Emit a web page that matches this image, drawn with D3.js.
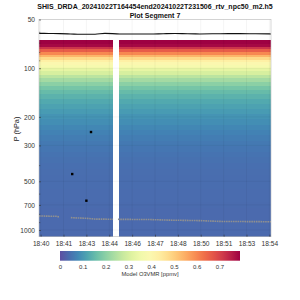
<!DOCTYPE html>
<html><head><meta charset="utf-8">
<script src="https://cdn.jsdelivr.net/npm/d3@7"></script>
<style>body{margin:0;background:#fff}svg{display:block}text{font-family:"Liberation Sans",Arial,sans-serif}</style>
</head><body><svg id="c" width="300" height="300"></svg>
<script>
const titleLines = ["SHIS_DRDA_20241022T164454end20241022T231506_rtv_npc50_m2.h5", "Plot Segment 7"];
const tickTimes = ["18:40:30","18:41:54","18:43:18","18:44:42","18:46:06","18:47:30","18:48:54","18:50:18","18:51:42","18:53:06","18:54:30"];
const timeDomain = ["18:40:24","18:54:36"];
const segStarts = ["18:40:24","18:45:17"];
const segEnds = ["18:44:57","18:54:36"];
const yTicks = [50,100,200,300,500,700,1000];
const yMinor = [60,70,80,90,400,600,800,900];
const cbTicks = [0,0.1,0.2,0.3,0.4,0.5,0.6,0.7];
const levels = [66,69,72,75,78,81,84,87,90,94,98,102,107,112,118,125,132,140,150,160,172,185,200,215,232,250,270,290,315,340,370,400,440,480,530,580,640,700,770,850,930,1010,1100];
const o3 = [0.85,0.82,0.78,0.72,0.66,0.60,0.54,0.48,0.43,0.40,0.37,0.33,0.30,0.26,0.23,0.20,0.175,0.155,0.14,0.125,0.115,0.105,0.095,0.087,0.078,0.07,0.063,0.058,0.054,0.05,0.047,0.045,0.043,0.042,0.041,0.04,0.04,0.039,0.038,0.038,0.037,0.037,0.036];
const tropTimes = ["18:40:24","18:41:00","18:41:41","18:42:20","18:42:55","18:43:50","18:44:26","18:45:21","18:46:20","18:47:12","18:48:00","18:48:43","18:49:30","18:50:15","18:51:30","18:52:42","18:53:40","18:54:36"];
const tropP = [60.9,61.0,61.1,61.4,61.7,61.7,60.9,61.4,61.4,61.5,61.2,61.0,61.3,61.4,61.2,61.1,61.3,61.4];
const sfcTimes = ["18:40:24","18:41:30","18:41:39",null,"18:42:21","18:43:20","18:43:50","18:44:56",null,"18:45:14","18:47:12","18:48:25","18:50:15","18:51:29","18:54:36"];
const sfcP = [819,823,831,null,839,847,856,858,null,859,862,869,875,885,889];
const dotTimes = ["18:42:26","18:43:18","18:43:35"];
const dotP = [451,659,248];
const cbMax = 0.79;

const svg = d3.select("#c");
const T = s => new Date(Date.UTC(2024,9,22,+s.slice(0,2),+s.slice(3,5),+s.slice(6,8)));
const L = 39, R = 271, TOP = 19.5, BOT = 236.7;
const x = d3.scaleUtc().domain(timeDomain.map(T)).range([L,R]);
const y = d3.scaleLog().domain([50,1100]).range([TOP,BOT]);
const color = v => d3.interpolateSpectral(1 - Math.max(0,Math.min(1,v/cbMax)));

// title
svg.selectAll("text.title").data(titleLines).join("text")
  .attr("x",155).attr("y",(d,i)=>9+i*8.6).attr("text-anchor","middle")
  .attr("font-size",7).attr("font-weight","bold").attr("fill","#111").text(d=>d);

// image cells
const edges = levels.map((p,i)=> i===0 ? 66.5 : Math.sqrt(levels[i-1]*p));
edges.push(1100);
const g = svg.append("g");
segStarts.forEach((s,si)=>{
  g.selectAll(null).data(levels).join("rect")
    .attr("x",x(T(s))).attr("width",x(T(segEnds[si]))-x(T(s)))
    .attr("y",(d,i)=>y(edges[i])).attr("height",(d,i)=>y(edges[i+1])-y(edges[i])+0.3)
    .attr("fill",(d,i)=>color(o3[i])).attr("shape-rendering","crispEdges");
});

// grid
const grid = svg.append("g").attr("stroke","#000").attr("stroke-opacity",0.08).attr("stroke-width",0.6);
grid.selectAll(null).data(tickTimes).join("line")
  .attr("x1",d=>x(T(d))).attr("x2",d=>x(T(d))).attr("y1",TOP).attr("y2",BOT);
grid.selectAll(null).data(yTicks).join("line")
  .attr("x1",L).attr("x2",R).attr("y1",d=>y(d)).attr("y2",d=>y(d));

// tropopause-like line
const line = d3.line().x((d,i)=>x(T(tropTimes[i]))).y(d=>y(d)).curve(d3.curveMonotoneX);
svg.append("path").attr("d",line(tropP)).attr("fill","none").attr("stroke","#111").attr("stroke-width",1.1);

// surface dots
const sline = d3.line().defined((d,i)=>sfcTimes[i]!==null).x((d,i)=>x(T(sfcTimes[i]))).y(d=>y(d));
svg.append("path").attr("d",sline(sfcP)).attr("fill","none").attr("stroke","#909090").attr("stroke-width",1.6).attr("stroke-dasharray","1.6,0.7");

// black dots
svg.selectAll("rect.dot").data(dotP).join("rect")
  .attr("x",(d,i)=>x(T(dotTimes[i]))-1.2).attr("y",d=>y(d)-1.2).attr("width",2.4).attr("height",2.4).attr("fill","#000");

// frame
svg.append("rect").attr("x",L).attr("y",TOP).attr("width",R-L).attr("height",BOT-TOP)
  .attr("fill","none").attr("stroke","#bdbdbd").attr("stroke-width",0.6);

// y axis
const yAx = svg.append("g").attr("transform",`translate(${L},0)`)
  .call(d3.axisLeft(y).tickValues(yTicks).tickFormat(d3.format("d")).tickSize(-2).tickPadding(4));
yAx.select(".domain").remove();
yAx.selectAll("line").attr("stroke","#333").attr("stroke-width",0.6);
yAx.selectAll("text").attr("font-size",6.6).attr("fill","#333").attr("font-family","Liberation Sans, Arial, sans-serif");
svg.append("g").selectAll("line").data(yMinor).join("line")
  .attr("x1",L).attr("x2",L+1.3).attr("y1",d=>y(d)).attr("y2",d=>y(d)).attr("stroke","#333").attr("stroke-width",0.5);

svg.append("text").attr("transform","translate(19,129) rotate(-90)").attr("text-anchor","middle")
  .attr("font-size",7.3).attr("fill","#222").text("P (hPa)");

// x axis
const xAx = svg.append("g").attr("transform",`translate(0,${BOT})`)
  .call(d3.axisBottom(x).tickValues(tickTimes.map(T)).tickFormat(d3.utcFormat("%H:%M")).tickSize(-2).tickPadding(5));
xAx.select(".domain").remove();
xAx.selectAll("line").attr("stroke","#333").attr("stroke-width",0.6);
xAx.selectAll("text").attr("font-size",6.6).attr("fill","#333").attr("font-family","Liberation Sans, Arial, sans-serif");

// colorbar
const cbL = 60, cbR = 240, cbT = 251, cbB = 260.7;
const cx = d3.scaleLinear().domain([0,cbMax]).range([cbL,cbR]);
const defs = svg.append("defs");
const grad = defs.append("linearGradient").attr("id","cbg");
d3.range(0,1.0001,0.05).forEach(t=>grad.append("stop").attr("offset",t).attr("stop-color",color(t*cbMax)));
svg.append("rect").attr("x",cbL).attr("y",cbT).attr("width",cbR-cbL).attr("height",cbB-cbT).attr("fill","url(#cbg)");
const cAx = svg.append("g").attr("transform",`translate(0,${cbB})`)
  .call(d3.axisBottom(cx).tickValues(cbTicks).tickFormat(d=>d===0?"0":d3.format(".1f")(d)).tickSize(0).tickPadding(4));
cAx.select(".domain").remove();
cAx.selectAll("text").attr("font-size",6).attr("fill","#333").attr("font-family","Liberation Sans, Arial, sans-serif");
svg.append("text").attr("x",150).attr("y",276).attr("text-anchor","middle").attr("font-size",5.8).attr("fill","#333").text("Model O3VMR [ppmv]");
</script></body></html>
